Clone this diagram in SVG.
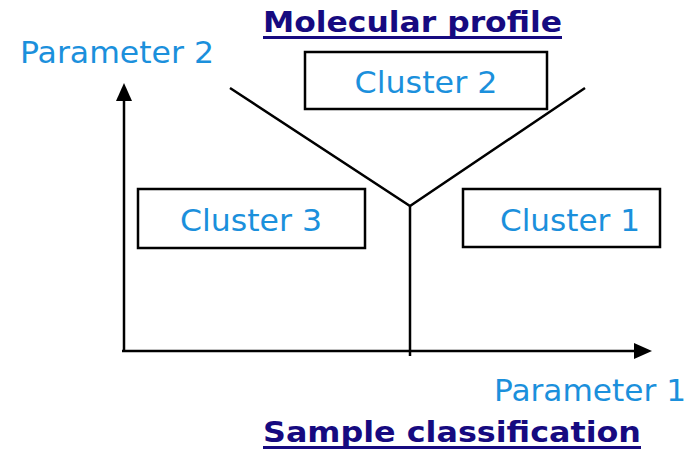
<svg xmlns="http://www.w3.org/2000/svg" width="687" height="450" viewBox="0 0 687 450">
<style>
.lbl{font-family:"DejaVu Sans","Liberation Sans",sans-serif;font-size:31px;fill:#1b90dc}
.ttl{font-family:"DejaVu Sans","Liberation Sans",sans-serif;font-weight:bold;font-size:29px;fill:#160a80}
.ul{fill:#160a80}
.box{fill:#fff;stroke:#000;stroke-width:2.5}
.ln{stroke:#000;stroke-width:2.5;fill:none}
</style>
<rect width="687" height="450" fill="#fff"/>
<g id="title-top"><text class="ttl" x="263" y="32" textLength="299" lengthAdjust="spacingAndGlyphs">Molecular profile</text><rect class="ul" x="263" y="36" width="299" height="3"/></g>
<g id="title-bottom"><text class="ttl" x="263" y="442" textLength="378" lengthAdjust="spacingAndGlyphs">Sample classification</text><rect class="ul" x="263" y="446" width="378" height="3"/></g>
<g id="axis-y-label"><text class="lbl" x="20" y="63" textLength="194" lengthAdjust="spacingAndGlyphs">Parameter 2</text></g>
<g id="axis-x-label"><text class="lbl" x="494" y="401" textLength="192" lengthAdjust="spacingAndGlyphs">Parameter 1</text></g>
<g id="connectors">
<path class="ln" d="M124,351 V98"/>
<path d="M124,83 L116,101 L132,101 Z" fill="#000"/>
<path class="ln" d="M122,351 H636"/>
<path d="M652,351 L634,343 L634,359 Z" fill="#000"/>
<path class="ln" d="M230,88 L410,206 L585,88"/>
<path class="ln" d="M410,205 V356"/>
</g>
<g id="cluster2"><rect class="box" x="305" y="52" width="242" height="57"/><text class="lbl" x="426" y="93" text-anchor="middle" textLength="143" lengthAdjust="spacingAndGlyphs">Cluster 2</text></g>
<g id="cluster3"><rect class="box" x="138" y="189" width="227" height="59"/><text class="lbl" x="251" y="231" text-anchor="middle" textLength="142" lengthAdjust="spacingAndGlyphs">Cluster 3</text></g>
<g id="cluster1"><rect class="box" x="463" y="189" width="197" height="58"/><text class="lbl" x="570" y="231" text-anchor="middle" textLength="140" lengthAdjust="spacingAndGlyphs">Cluster 1</text></g>
</svg>
